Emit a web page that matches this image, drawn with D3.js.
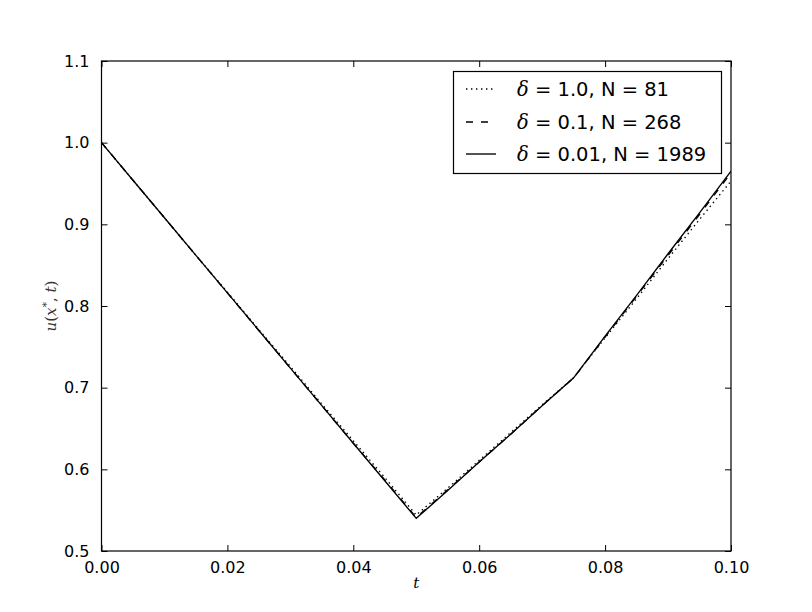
<!DOCTYPE html>
<html><head><meta charset="utf-8">
<script src="https://cdn.jsdelivr.net/npm/d3@7"></script>
<style>body{margin:0;background:#fff}svg{display:block}</style>
</head><body>
<script>
// Data
const tValues = [0,0.005,0.01,0.015,0.02,0.025,0.03,0.035,0.04,0.045,0.05,0.055,0.06,0.065,0.07,0.075,0.08,0.085,0.09,0.095,0.1];
const uDelta1 = [1.0,0.954,0.908,0.862,0.817,0.771,0.726,0.680,0.635,0.590,0.544,0.577,0.611,0.645,0.679,0.712,0.761,0.809,0.858,0.906,0.953];
const uDelta01 = [1.0,0.954,0.908,0.862,0.816,0.770,0.724,0.678,0.632,0.587,0.541,0.575,0.609,0.643,0.678,0.712,0.762,0.812,0.862,0.912,0.963];
const uDelta001 = [1.0,0.954,0.908,0.862,0.816,0.770,0.724,0.678,0.632,0.586,0.540,0.574,0.609,0.643,0.678,0.712,0.763,0.813,0.864,0.914,0.965];
const xTicks = [0,0.02,0.04,0.06,0.08,0.10];
const yTicks = [0.5,0.6,0.7,0.8,0.9,1.0,1.1];
const seriesLabels = [["1.0","81"],["0.1","268"],["0.01","1989"]];
const seriesDash = ["1.4,3.6","7,8",null];

const W=812,H=612;
const L=101.5,R=731,T=61,B=551;
const svg=d3.select("body").append("svg").attr("width",W).attr("height",H);
const x=d3.scaleLinear().domain([0,0.1]).range([L,R]);
const y=d3.scaleLinear().domain([0.5,1.1]).range([B,T]);

const g=svg.append("g");
svg.append("clipPath").attr("id","c").append("rect").attr("x",L).attr("y",T).attr("width",R-L).attr("height",B-T);

const series=[uDelta1,uDelta01,uDelta001];
const line=d3.line().x((d,i)=>x(tValues[i])).y(d=>y(d));
series.forEach((s,k)=>{
  const p=g.append("path").datum(s).attr("d",line).attr("fill","none").attr("stroke","#000")
   .attr("stroke-width",1.35).attr("clip-path","url(#c)");
  if(seriesDash[k]) p.attr("stroke-dasharray",seriesDash[k]);
});

// axes with inward ticks on all four sides
const font="'DejaVu Sans', sans-serif";
const xb=svg.append("g").attr("transform",`translate(0,${B})`).call(d3.axisBottom(x).tickValues(xTicks).tickSizeInner(-6).tickSizeOuter(0).tickPadding(11).tickFormat(d3.format(".2f")));
const xt=svg.append("g").attr("transform",`translate(0,${T})`).call(d3.axisTop(x).tickValues(xTicks).tickSizeInner(-6).tickSizeOuter(0).tickFormat(""));
const yl=svg.append("g").attr("transform",`translate(${L},0)`).call(d3.axisLeft(y).tickValues(yTicks).tickSizeInner(-6).tickSizeOuter(0).tickPadding(12).tickFormat(d3.format(".1f")));
const yr=svg.append("g").attr("transform",`translate(${R},0)`).call(d3.axisRight(y).tickValues(yTicks).tickSizeInner(-6).tickSizeOuter(0).tickFormat(""));
[xb,xt,yl,yr].forEach(a=>{
  a.select(".domain").remove();
  a.selectAll("line").attr("stroke","#000").attr("stroke-width",1);
  a.selectAll("text").attr("font-family",font).attr("font-size",16).attr("fill","#000");
});
svg.append("rect").attr("x",L).attr("y",T).attr("width",R-L).attr("height",B-T).attr("fill","none").attr("stroke","#000").attr("stroke-width",1.2);

// axis labels
svg.append("text").attr("x",(L+R)/2).attr("y",588).attr("text-anchor","middle")
  .attr("font-family","'DejaVu Serif', serif").attr("font-style","italic").attr("font-size",15).text("t");
const ylab=svg.append("text").attr("transform",`translate(56,${(T+B)/2}) rotate(-90)`).attr("text-anchor","middle")
  .attr("font-family","'DejaVu Serif', serif").attr("font-size",15).attr("fill","#333");
ylab.append("tspan").attr("font-style","italic").text("u");
ylab.append("tspan").text("(");
ylab.append("tspan").attr("font-style","italic").text("x");
ylab.append("tspan").attr("font-size",11).attr("dy",-6).text("*");
ylab.append("tspan").attr("dy",6).text(", ");
ylab.append("tspan").attr("font-style","italic").text("t");
ylab.append("tspan").text(")");

// legend
const lg=svg.append("g");
lg.append("rect").attr("x",453.5).attr("y",71.5).attr("width",268).attr("height",102).attr("fill","#fff").attr("stroke","#000").attr("stroke-width",1.2);
const rowY=[89,122,154];
seriesLabels.forEach((lab,k)=>{
  const ln=lg.append("line").attr("x1",466).attr("x2",496).attr("y1",rowY[k]).attr("y2",rowY[k]).attr("stroke","#000").attr("stroke-width",1.35);
  if(seriesDash[k]) ln.attr("stroke-dasharray",seriesDash[k]);
  const t=lg.append("text").attr("x",517).attr("y",rowY[k]+7).attr("font-family",font).attr("font-size",19.5);
  t.append("tspan").attr("font-family","'DejaVu Serif', serif").attr("font-style","italic").text("δ");
  t.append("tspan").text(` = ${lab[0]}, N = ${lab[1]}`);
});
</script>
</body></html>
